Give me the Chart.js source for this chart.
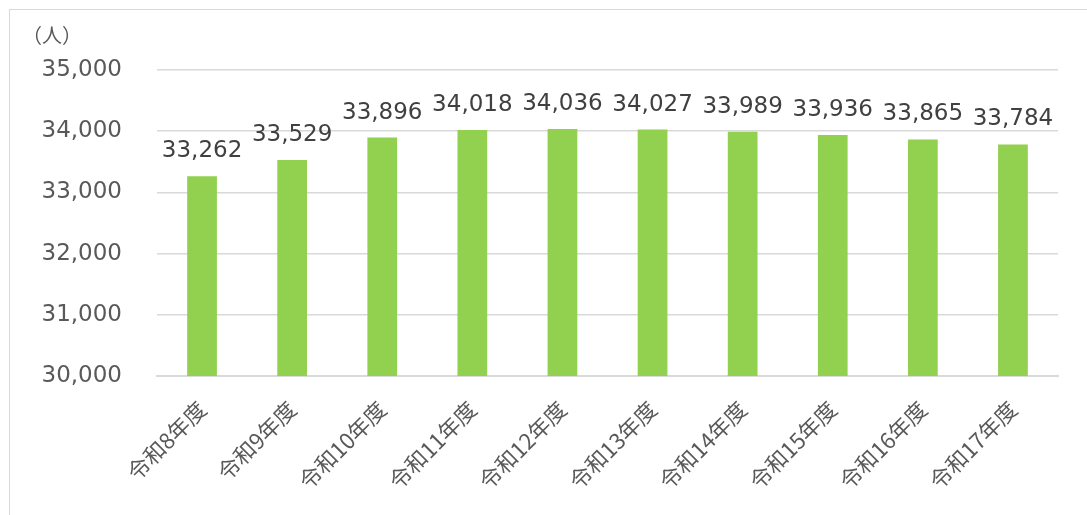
<!DOCTYPE html>
<html lang="ja">
<head>
<meta charset="utf-8">
<script src="https://cdn.jsdelivr.net/npm/chart.js@4"></script>
<style>
  html, body { margin: 0; padding: 0; background: #fff; overflow: hidden; }
  #frame { position: absolute; left: 9px; top: 9px; width: 1200px; height: 600px; border-left: 1.5px solid #d9d9d9; border-top: 1.5px solid #d9d9d9; }
  #wrap { position: absolute; left: 0; top: 0; width: 1087px; height: 515px; }
</style>
</head>
<body>
<div id="frame"></div>
<div id="wrap"><canvas id="chart"></canvas></div>
<script>
const years = ['令和8年度', '令和9年度', '令和10年度', '令和11年度', '令和12年度', '令和13年度', '令和14年度', '令和15年度', '令和16年度', '令和17年度'];
const people = [33262, 33529, 33896, 34018, 34036, 34027, 33989, 33936, 33865, 33784];
const unitLabel = '（人）';

const numFont = '"DejaVu Sans", Verdana, sans-serif';
const jpFont = '"Noto Sans CJK JP", "Noto Sans", sans-serif';

// value labels above each bar plus the unit caption
const barLabels = {
  id: 'barLabels',
  afterDatasetsDraw(chart) {
    const ctx = chart.ctx;
    const meta = chart.getDatasetMeta(0);
    ctx.save();
    ctx.font = '23px ' + numFont;
    ctx.fillStyle = '#404040';
    ctx.textAlign = 'center';
    ctx.textBaseline = 'alphabetic';
    meta.data.forEach((bar, i) => {
      ctx.fillText(people[i].toLocaleString('en-US'), bar.x, bar.y - 19);
    });
    ctx.font = '20px ' + jpFont;
    ctx.fillStyle = '#595959';
    ctx.textAlign = 'left';
    ctx.textBaseline = 'middle';
    ctx.fillText(unitLabel, 22, 35);
    ctx.restore();
  }
};

new Chart(document.getElementById('chart'), {
  type: 'bar',
  data: {
    labels: years,
    datasets: [{
      data: people,
      backgroundColor: '#92d050',
      barPercentage: 0.33,
      categoryPercentage: 1.0
    }]
  },
  options: {
    responsive: true,
    maintainAspectRatio: false,
    animation: false,
    layout: { padding: { top: 70, right: 29, bottom: 0, left: 0 } },
    plugins: { legend: { display: false }, tooltip: { enabled: false } },
    scales: {
      x: {
        grid: { display: false, drawTicks: false },
        border: { color: '#d9d9d9', width: 2 },
        ticks: {
          color: '#595959',
          font: { family: jpFont, size: 22 },
          minRotation: 45,
          maxRotation: 45,
          padding: 20
        },
        afterFit(scale) { scale.height = 139; }
      },
      y: {
        min: 30000,
        max: 35000,
        grid: { color: '#d9d9d9', lineWidth: 1.5, drawTicks: false },
        border: { display: false },
        ticks: {
          stepSize: 1000,
          color: '#595959',
          font: { family: numFont, size: 23 },
          padding: 35,
          callback: v => v.toLocaleString('en-US')
        },
        afterFit(scale) { scale.width = 157; }
      }
    }
  },
  plugins: [barLabels]
});
</script>
</body>
</html>
